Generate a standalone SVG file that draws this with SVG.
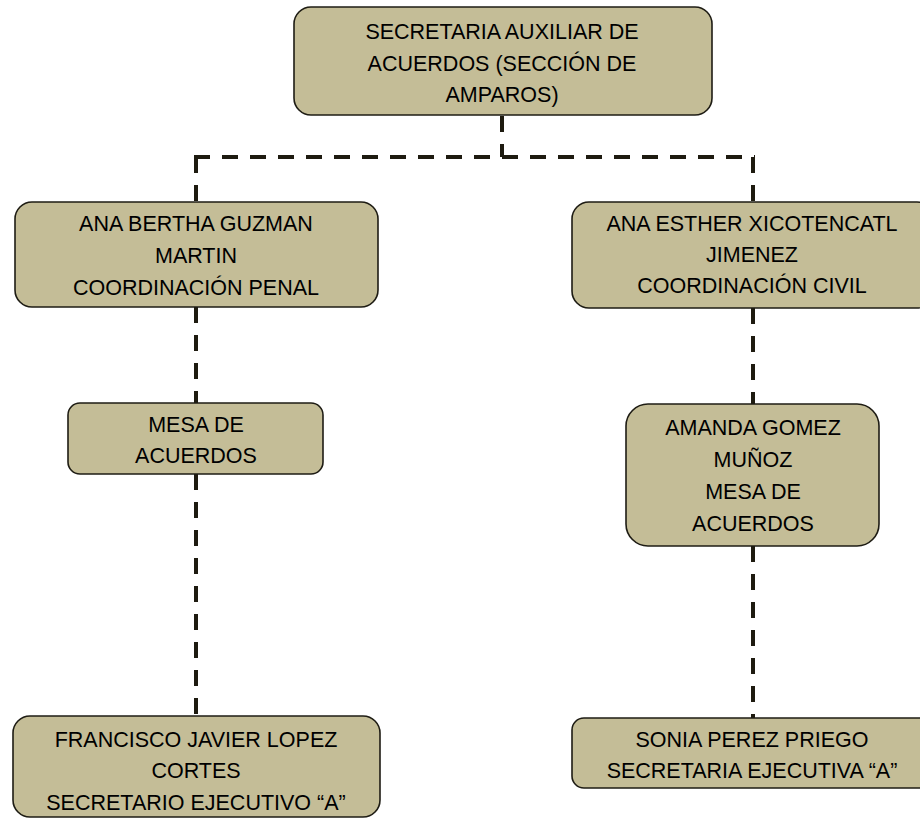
<svg xmlns="http://www.w3.org/2000/svg" width="920" height="820" viewBox="0 0 920 820">
<style>
.box{fill:#c4bd97;stroke:#1e1c14;stroke-width:1.6}
.t{font-family:"Liberation Sans",Arial,sans-serif;font-size:21.5px;fill:#000;text-anchor:middle}
.c{fill:none;stroke:#1e1b10;stroke-width:4;stroke-dasharray:16 12}
</style>
<rect width="920" height="820" fill="#fff"/>
<g id="connectors">
<line class="c" x1="502" y1="116" x2="502" y2="157"/>
<line class="c" x1="194" y1="157" x2="755" y2="157"/>
<line class="c" x1="196" y1="157" x2="196" y2="202"/>
<line class="c" x1="753" y1="157" x2="753" y2="202"/>
<line class="c" x1="196" y1="307" x2="196" y2="403"/>
<line class="c" x1="196" y1="474" x2="196" y2="716"/>
<line class="c" x1="753" y1="308" x2="753" y2="404"/>
<line class="c" x1="753" y1="546" x2="753" y2="718"/>
</g>
<g id="n-secretaria">
<rect class="box" x="294" y="7" width="418" height="108" rx="17"/>
<text class="t" x="502" y="39">SECRETARIA AUXILIAR DE</text>
<text class="t" x="502" y="71">ACUERDOS (SECCIÓN DE</text>
<text class="t" x="502" y="102">AMPAROS)</text>
</g>
<g id="n-penal">
<rect class="box" x="15" y="202" width="363" height="105" rx="17"/>
<text class="t" x="196" y="231">ANA BERTHA GUZMAN</text>
<text class="t" x="196" y="263">MARTIN</text>
<text class="t" x="196" y="295">COORDINACIÓN PENAL</text>
</g>
<g id="n-civil">
<rect class="box" x="572" y="202" width="362" height="106" rx="17"/>
<text class="t" x="752" y="231">ANA ESTHER XICOTENCATL</text>
<text class="t" x="752" y="262">JIMENEZ</text>
<text class="t" x="752" y="293">COORDINACIÓN CIVIL</text>
</g>
<g id="n-mesa-penal">
<rect class="box" x="68" y="403" width="255" height="71" rx="12"/>
<text class="t" x="196" y="432">MESA DE</text>
<text class="t" x="196" y="463">ACUERDOS</text>
</g>
<g id="n-mesa-civil">
<rect class="box" x="626" y="404" width="253" height="142" rx="22"/>
<text class="t" x="753" y="435">AMANDA GOMEZ</text>
<text class="t" x="753" y="467">MUÑOZ</text>
<text class="t" x="753" y="499">MESA DE</text>
<text class="t" x="753" y="531">ACUERDOS</text>
</g>
<g id="n-francisco">
<rect class="box" x="13" y="716" width="367" height="101" rx="17"/>
<text class="t" x="196" y="747">FRANCISCO JAVIER LOPEZ</text>
<text class="t" x="196" y="778">CORTES</text>
<text class="t" x="196" y="810">SECRETARIO EJECUTIVO “A”</text>
</g>
<g id="n-sonia">
<rect class="box" x="572" y="718" width="362" height="70" rx="12"/>
<text class="t" x="752" y="747">SONIA PEREZ PRIEGO</text>
<text class="t" x="752" y="778">SECRETARIA EJECUTIVA “A”</text>
</g>
</svg>
